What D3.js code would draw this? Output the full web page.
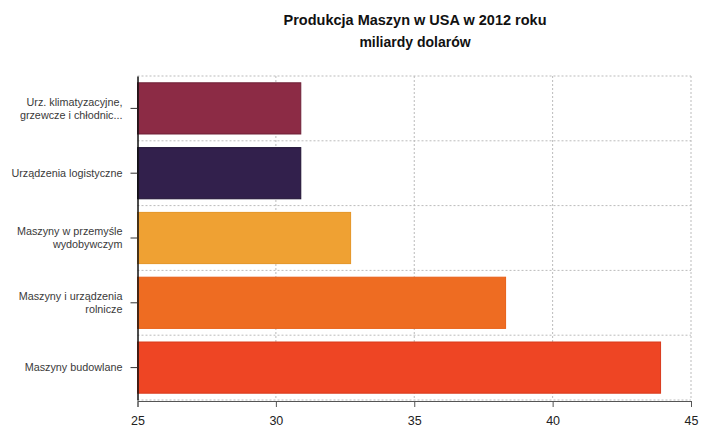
<!DOCTYPE html>
<html><head><meta charset="utf-8">
<script src="https://cdn.jsdelivr.net/npm/d3@7"></script>
<style>body{margin:0;background:#fff}svg{display:block;font-family:"Liberation Sans",Arial,sans-serif}</style>
</head><body><svg id="c" width="701" height="432"></svg>
<script>
const categories = [
  ["Urz. klimatyzacyjne,", "grzewcze i chłodnic..."],
  ["Urządzenia logistyczne"],
  ["Maszyny w przemyśle", "wydobywczym"],
  ["Maszyny i urządzenia", "rolnicze"],
  ["Maszyny budowlane"]
];
const values = [30.9, 30.9, 32.7, 38.3, 43.9];
const colors = ["#8c2b45", "#32204c", "#efa133", "#ee6c22", "#ee4524"];
const strokes = ["#6e1f35", "#1f1233", "#e59425", "#e86018", "#d83a1c"];
const xTicks = [25, 30, 35, 40, 45];
const title = "Produkcja Maszyn w USA w 2012 roku";
const subtitle = "miliardy dolarów";

const svg = d3.select("#c");
const L = 137.5, R = 691, T = 76, B = 400;
const x = d3.scaleLinear().domain([25, 45]).range([L, R]);
const y = d3.scaleBand().domain(d3.range(categories.length)).range([T, B]).paddingInner(0.21).paddingOuter(0.105);

svg.append("text").attr("x", 415).attr("y", 25).attr("text-anchor", "middle")
  .attr("font-weight", "bold").attr("font-size", 14.5).attr("fill", "#111").text(title);
svg.append("text").attr("x", 415).attr("y", 47).attr("text-anchor", "middle")
  .attr("font-weight", "bold").attr("font-size", 14).attr("fill", "#111").text(subtitle);

// grid
const g = svg.append("g");
const step = (B - T) / categories.length;
const hLines = d3.range(categories.length + 1).map(i => T + i * step);
g.selectAll(".hg").data(hLines).join("line")
  .attr("x1", L).attr("x2", R).attr("y1", d => d).attr("y2", d => d)
  .attr("stroke", "#bbb").attr("stroke-dasharray", "2,2").attr("stroke-width", 1);
g.selectAll(".vg").data(xTicks.slice(1)).join("line")
  .attr("x1", d => x(d)).attr("x2", d => x(d)).attr("y1", T).attr("y2", B)
  .attr("stroke", "#bbb").attr("stroke-dasharray", "2,2").attr("stroke-width", 1);

// bars
svg.selectAll(".bar").data(values).join("rect")
  .attr("x", x(25)).attr("y", (d, i) => y(i))
  .attr("width", d => x(d) - x(25)).attr("height", y.bandwidth())
  .attr("fill", (d, i) => colors[i]).attr("stroke", (d, i) => strokes[i]).attr("stroke-width", 1);

// x axis
const xa = svg.append("g").attr("transform", `translate(0,${B + 1})`)
  .call(d3.axisBottom(x).tickValues(xTicks).tickSize(6).tickPadding(9));
xa.select(".domain").attr("stroke", "#555");
xa.selectAll(".tick line").attr("stroke", "#555");
xa.selectAll("text").attr("font-size", 12.5).attr("fill", "#222").attr("font-family", "'Liberation Sans',Arial,sans-serif");

// y axis
const ya = svg.append("g").attr("transform", `translate(${L},0)`)
  .call(d3.axisLeft(y).tickSize(7).tickSizeOuter(0).tickFormat(""));
ya.select(".domain").attr("stroke", "#111").attr("stroke-width", 1.5);
ya.selectAll(".tick line").attr("stroke", "#333");
ya.selectAll(".tick").each(function (d) {
  const lines = categories[d];
  const t = d3.select(this).append("text").attr("x", -15).attr("text-anchor", "end")
    .attr("font-size", 10.8).attr("fill", "#3a3a3a").attr("font-family", "'Liberation Sans',Arial,sans-serif");
  const lh = 13;
  lines.forEach((s, k) => {
    t.append("tspan").attr("x", -15).attr("y", (k - (lines.length - 1) / 2) * lh).attr("dy", "0.35em").text(s);
  });
});
</script></body></html>
